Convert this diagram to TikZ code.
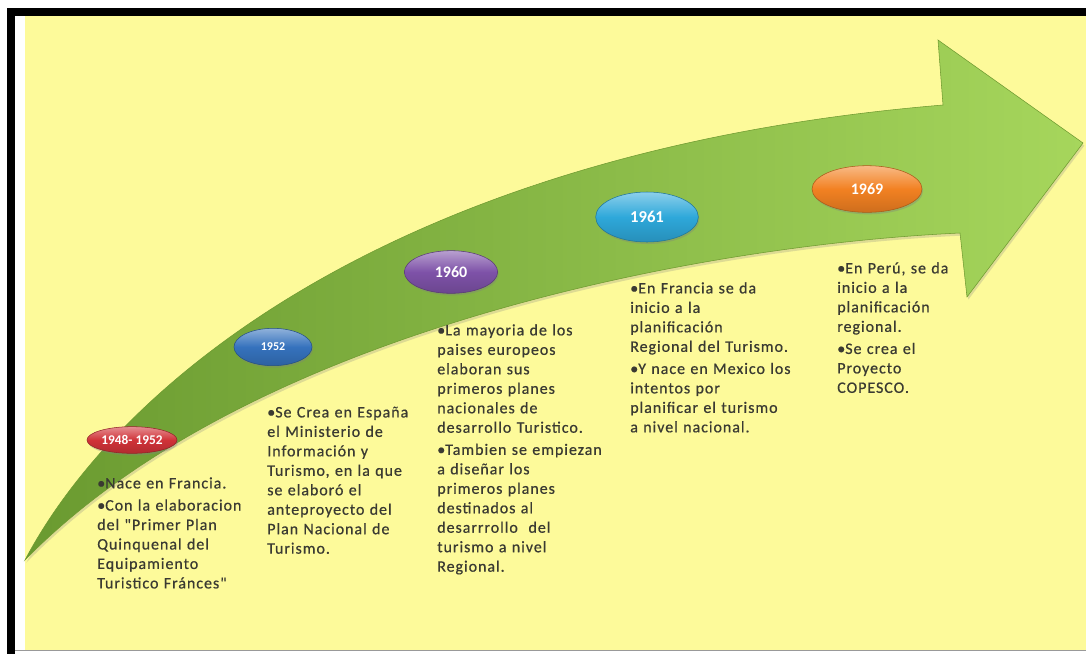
\documentclass[tikz,border=0pt]{standalone}
\usepackage{fontspec}
\setmainfont{Carlito}
\newfontfamily\cuerpo{Carlito}[FakeBold=0.6, LetterSpace=6]
\usepackage{tikz}
\usetikzlibrary{shapes.geometric,shadows}
\definecolor{fondo}{HTML}{FDFA9A}
\definecolor{textgris}{HTML}{3A3A32}
\definecolor{verdeosc}{HTML}{6A9A30}
\definecolor{verdemed}{HTML}{94C84C}
\definecolor{verdeclaro}{HTML}{A6D65C}
\definecolor{verdeborde}{HTML}{6E9A30}
\definecolor{rojo}{HTML}{D03238}
\definecolor{azul}{HTML}{3572BD}
\definecolor{morado}{HTML}{7E52A8}
\definecolor{celeste}{HTML}{2EA8DA}
\definecolor{naranja}{HTML}{F28122}
\newcommand{\vineta}[1]{\par\hangindent=6pt\hangafter=1\noindent\makebox[6pt][l]{\textbullet}#1\par}
\tikzset{
  fecha/.style={ellipse, inner sep=0pt, text=white, draw=#1!70!black, line width=0.4pt,
    top color=#1!55!white, bottom color=#1!85!black, middle color=#1,
    drop shadow={opacity=0.35, shadow xshift=0.8pt, shadow yshift=-1.5pt}},
  texto/.style={anchor=north west, inner sep=0pt, text width=150pt, align=left,
    text=textgris, font=\cuerpo\fontsize{12}{14.6}\selectfont,
    execute at begin node=\setlength{\parskip}{2pt}}
}
\begin{document}
\begin{tikzpicture}[x=0.75pt, y=-0.75pt]
        \useasboundingbox (0,0) rectangle (1086,654);
        \fill[white] (0,0) rectangle (1086,654);
        \fill[fondo] (25,16) rectangle (1086,650);
        \fill[black] (7,8) rectangle (1086,16);
        \fill[black] (7,8) rectangle (15,654);
        \draw[gray!80] (15,650.5) -- (1086,650.5);
        \path[left color=verdeosc, middle color=verdemed, right color=verdeclaro, draw=verdeborde,
          drop shadow={opacity=0.25, shadow xshift=1pt, shadow yshift=-2pt}]
          (25,560) .. controls (120,380) and (400,150) .. (943,105) -- (938,40) -- (1083,143)
          -- (967,297) -- (960,233) .. controls (700,245) and (250,330) .. (25,560) -- cycle;
        \node[fecha=rojo, minimum width=67.5pt, minimum height=20pt,
          font=\fontsize{10}{10}\bfseries] (e1948) at (132,440) {1948- 1952};
        \node[fecha=azul, minimum width=58.5pt, minimum height=28pt,
          font=\fontsize{9}{9}\bfseries] (e1952) at (273,347) {1952};
        \node[fecha=morado, minimum width=70pt, minimum height=32pt,
          font=\fontsize{12}{12}\bfseries] (e1960) at (451,272) {1960};
        \node[fecha=celeste, minimum width=77pt, minimum height=37.5pt,
          font=\fontsize{12.5}{12.5}\bfseries] (e1961) at (647,217) {1961};
        \node[fecha=naranja, minimum width=82.5pt, minimum height=35pt,
          font=\fontsize{12}{12}\bfseries] (e1969) at (867,189) {1969};
        \node[texto] (t1948) at (97,466) {%
          \vineta{Nace en Francia.}
          \vineta{Con la elaboracion\\del \symbol{34}Primer Plan\\Quinquenal del\\Equipamiento\\Turistico Fránces\symbol{34}}};
        \node[texto] (t1952) at (267,395) {%
          \vineta{Se Crea en España\\el Ministerio de\\Información y\\Turismo, en la que\\se elaboró el\\anteproyecto del\\Plan Nacional de\\Turismo.}};
        \node[texto] (t1960) at (437,313) {%
          \vineta{La mayoria de los\\paises europeos\\elaboran sus\\primeros planes\\nacionales de\\desarrollo Turistico.}
          \vineta{Tambien se empiezan\\a diseñar los\\primeros planes\\destinados al\\desarrrollo\ \ del\\turismo a nivel\\Regional.}};
        \node[texto] (t1961) at (630,271) {%
          \vineta{En Francia se da\\inicio a la\\planificación\\Regional del Turismo.}
          \vineta{Y nace en Mexico los\\intentos por\\planificar el turismo\\a nivel nacional.}};
        \node[texto] (t1969) at (837,251) {%
          \vineta{En Perú, se da\\inicio a la\\planificación\\regional.}
          \vineta{Se crea el\\Proyecto\\COPESCO.}};
      \end{tikzpicture}
\end{document}
